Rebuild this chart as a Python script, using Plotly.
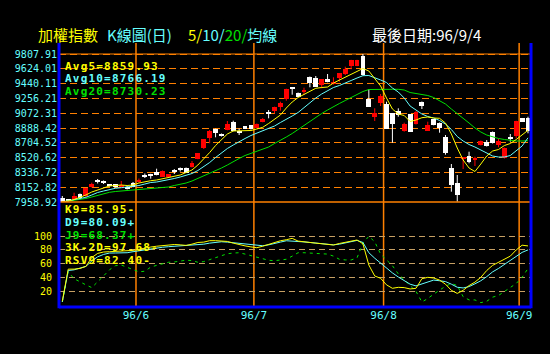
import plotly.graph_objects as go

# ---------------- data ----------------
idx = list(range(80))

open_ = [8022.3, 8000.0, 8009.9, 8068.3, 8043.5, 8151.6, 8229.9, 8223.6, 8180.2, 8188.8,
         8157.8, 8161.5, 8211.2, 8223.6, 8298.2, 8316.8, 8345.4, 8283.3, 8283.3, 8362.8,
         8385.1, 8391.4, 8400.1, 8503.2, 8643.6, 8767.9, 8876.0, 8813.9, 8863.6, 8966.7,
         8847.4, 8909.5, 8921.9, 8888.4, 8963.0, 9078.5, 9099.6, 9153.0, 9245.0, 9394.1,
         9327.0, 9335.7, 9525.8, 9513.4, 9426.4, 9493.5, 9431.4, 9513.4, 9559.4, 9658.8,
         9658.8, 9783.0, 9252.5, 9028.8, 9195.3, 9186.6, 9071.0, 9099.6, 8854.9, 9058.6,
         8938.1, 9215.2, 8854.9, 8996.5, 8954.3, 8780.3, 8391.4, 8211.2, 8499.5, 8540.5,
         8490.8, 8677.2, 8718.2, 8838.7, 8677.2, 8511.8, 8770.4, 8789.0, 9008.9, 9008.9]
high = [8043.5, 8006.0, 8084.5, 8074.5, 8143.0, 8208.8, 8254.7, 8236.0, 8186.4, 8192.6,
        8229.9, 8167.8, 8217.4, 8260.9, 8323.1, 8319.4, 8382.7, 8360.3, 8316.8, 8378.5,
        8397.8, 8397.8, 8478.4, 8577.8, 8751.7, 8863.6, 8879.7, 8820.0, 8975.4, 8979.1,
        8882.2, 8913.3, 8925.7, 8944.3, 9012.7, 9112.1, 9153.0, 9215.2, 9376.7, 9397.9,
        9329.5, 9389.2, 9528.3, 9534.5, 9497.3, 9559.4, 9518.4, 9571.8, 9650.1, 9735.8,
        9735.8, 9807.91, 9369.3, 9133.2, 9310.9, 9215.2, 9074.8, 9133.2, 8954.3, 9062.4,
        9099.6, 9217.7, 8966.7, 9000.2, 8956.8, 8801.4, 8441.1, 8304.4, 8528.1, 8594.0,
        8531.8, 8733.1, 8739.3, 8844.9, 8755.4, 8646.1, 8813.9, 8979.1, 9012.7, 9028.8]
low = [7969.0, 7975.0, 8010.0, 8000.0, 8027.3, 8149.0, 8198.8, 8192.6, 8161.5, 8149.0,
       8151.6, 8124.2, 8151.6, 8211.2, 8267.1, 8258.4, 8300.6, 8279.6, 8279.6, 8316.8,
       8347.9, 8329.2, 8397.6, 8499.5, 8627.3, 8698.3, 8772.9, 8782.8, 8859.8, 8847.4,
       8801.4, 8876.0, 8869.8, 8884.7, 8959.3, 9009.0, 9071.0, 9103.4, 9227.6, 9302.2,
       9273.6, 9298.4, 9394.1, 9397.9, 9381.7, 9456.3, 9428.9, 9463.7, 9547.0, 9617.8,
       9656.3, 9540.8, 9149.3, 8975.4, 9161.8, 8879.7, 8705.8, 9028.8, 8842.4, 8838.7,
       8931.9, 9124.5, 8851.2, 8921.9, 8830.0, 8556.6, 8096.9, 7972.6, 8379.0, 8449.8,
       8416.3, 8670.9, 8658.6, 8695.8, 8648.6, 8509.4, 8718.2, 8760.4, 8963.0, 8822.5]
close = [7972.6, 7987.6, 8043.5, 8018.6, 8139.1, 8192.6, 8217.4, 8213.7, 8167.8, 8151.6,
         8167.8, 8130.4, 8155.3, 8248.5, 8288.3, 8292.0, 8304.4, 8357.9, 8313.1, 8347.9,
         8372.7, 8332.9, 8457.3, 8574.0, 8748.0, 8851.2, 8826.3, 8789.0, 8938.1, 8851.2,
         8835.0, 8879.7, 8872.3, 8938.1, 8996.5, 9062.4, 9149.3, 9195.3, 9373.0, 9369.3,
         9277.3, 9360.6, 9451.3, 9401.6, 9493.5, 9460.0, 9460.0, 9568.1, 9617.8, 9733.4,
         9733.4, 9543.2, 9153.0, 9078.5, 9286.0, 8879.7, 8938.1, 9053.7, 8938.1, 8842.4,
         9090.9, 9161.8, 8925.7, 8925.7, 8892.1, 8581.5, 8183.9, 8062.1, 8524.4, 8469.7,
         8511.8, 8726.9, 8668.5, 8698.3, 8726.9, 8643.6, 8751.7, 8975.4, 8966.7, 8851.2]

ma5 = [7972.7, 7981.4, 8000.0, 8024.8, 8055.9, 8093.2, 8118.0, 8149.1, 8167.7, 8173.9,
       8180.2, 8173.9, 8180.2, 8205.0, 8223.7, 8233.6, 8242.3, 8258.4, 8270.9, 8285.8,
       8304.4, 8335.5, 8366.5, 8428.7, 8503.2, 8584.0, 8671.0, 8745.5, 8813.9, 8851.1,
       8851.1, 8851.1, 8857.4, 8876.0, 8897.1, 8944.3, 9000.3, 9050.0, 9136.9, 9211.5,
       9267.4, 9304.7, 9348.2, 9381.7, 9391.7, 9397.9, 9447.6, 9484.9, 9522.1, 9559.4,
       9596.7, 9627.7, 9596.7, 9509.7, 9410.3, 9261.2, 9124.5, 9062.4, 9043.7, 8969.2,
       8987.8, 9016.4, 9025.1, 9012.7, 9008.9, 8950.6, 8813.9, 8639.9, 8490.8, 8391.4,
       8347.9, 8441.1, 8540.5, 8602.6, 8621.3, 8671.0, 8695.8, 8745.0, 8800.0, 8859.93]
ma10 = [7968.9, 7985.1, 8000.0, 8012.4, 8027.3, 8055.9, 8087.0, 8105.6, 8124.2, 8139.2,
        8146.6, 8155.3, 8161.5, 8173.9, 8192.6, 8211.2, 8217.4, 8229.9, 8242.3, 8260.9,
        8279.6, 8298.2, 8323.1, 8360.3, 8410.0, 8459.7, 8521.9, 8577.8, 8633.7, 8677.2,
        8720.7, 8758.0, 8795.2, 8826.3, 8857.4, 8882.2, 8913.3, 8956.8, 8994.0, 9037.5,
        9081.0, 9143.1, 9199.1, 9261.2, 9310.9, 9354.4, 9391.7, 9416.5, 9443.8, 9478.6,
        9509.7, 9538.3, 9540.8, 9515.9, 9484.9, 9453.8, 9385.4, 9335.7, 9261.2, 9161.8,
        9112.1, 9062.4, 9031.3, 9012.7, 8981.6, 8938.1, 8869.8, 8782.8, 8726.9, 8683.4,
        8652.3, 8615.1, 8571.6, 8540.5, 8528.1, 8528.1, 8546.7, 8602.6, 8664.8, 8766.19]
ma20 = [7968.9, 7977.6, 7987.6, 8000.0, 8012.4, 8031.1, 8049.7, 8074.5, 8089.5, 8099.4,
        8105.6, 8111.8, 8118.0, 8121.8, 8124.2, 8130.5, 8139.2, 8146.6, 8155.3, 8173.9,
        8186.4, 8205.0, 8229.9, 8260.9, 8298.2, 8329.3, 8360.3, 8391.4, 8428.7, 8472.2,
        8509.4, 8546.7, 8571.6, 8596.4, 8621.3, 8652.3, 8695.8, 8733.1, 8776.6, 8820.1,
        8869.8, 8925.7, 8969.2, 9018.9, 9068.6, 9112.1, 9155.6, 9192.9, 9230.1, 9267.4,
        9304.7, 9342.0, 9366.8, 9369.3, 9369.3, 9369.3, 9369.3, 9369.3, 9360.6, 9329.5,
        9314.6, 9304.7, 9292.3, 9267.4, 9230.1, 9186.6, 9124.5, 9068.6, 9006.5, 8950.6,
        8888.4, 8838.7, 8801.4, 8776.6, 8758.0, 8745.5, 8733.1, 8726.9, 8726.9, 8730.23]

k9 = [5, 52, 52, 53, 56, 69, 75, 77, 77.5, 78,
      78, 78.5, 79.4, 81, 83, 84.3, 85.5, 86.7, 87.5, 88,
      87.5, 86.7, 88.5, 91, 91.5, 93.6, 93.6, 93.6, 92.5, 90,
      87.5, 86, 84.5, 83.3, 85.5, 88.5, 91, 93.5, 95, 97,
      93, 91.5, 91, 90, 89, 88, 87.3, 89.5, 91, 92.5,
      94.6, 89, 58, 42, 38.6, 29, 24, 25.4, 25, 23,
      24, 38, 40, 39, 36, 30, 21, 16.5, 21, 28,
      33, 40, 50, 57.5, 62, 66, 71, 80, 87, 85.95]
d9 = [4, 50, 51, 53, 56, 64, 70, 73.5, 75.5, 75.6,
      75.6, 76, 77.5, 79, 80.5, 82, 83, 84, 84.8, 85.3,
      85.7, 86, 86.5, 87, 88.5, 90, 91.5, 92, 91.5, 90.6,
      89.3, 88.2, 87, 86, 86.2, 87.5, 89, 91.5, 93.5, 93.3,
      92.5, 91.8, 91, 90.2, 89.5, 88.3, 87.5, 88.5, 90, 92,
      94, 91, 76, 68, 60.5, 54, 46.5, 40.5, 35, 30,
      27.5, 30, 33, 36, 35, 33.8, 30, 25.5, 24.5, 26.5,
      30.5, 35, 41, 48, 53, 59, 65, 71, 76.5, 80.09]
j9 = [4, 48, 38, 33, 29, 25, 33, 42, 51, 57,
      58, 55, 51, 48, 49, 55, 57.5, 59.5, 62, 62.5,
      64, 65, 64.5, 62, 63, 66, 69, 72, 74.5, 75.5,
      76, 74, 71.5, 69, 66.4, 65, 64.3, 65, 66.4, 71,
      76, 76, 75.5, 75, 74.5, 74, 71, 66.4, 65.5, 65.4,
      68.5, 90, 100, 92, 74, 65, 57, 45, 37, 28,
      19.5, 4, 9, 15.5, 21.5, 27, 31, 28, 11.7, 7,
      7, 3, 5, 11, 13.5, 19, 25, 31, 40, 53]

month_labels = ["96/6", "96/7", "96/8", "96/9"]
month_first_idx = [13, 33, 55, 78]

price_tick_vals = [9807.91, 9624.01, 9440.11, 9256.21, 9072.31, 8888.42,
                   8704.52, 8520.62, 8336.72, 8152.82, 7968.92]
price_tick_text = ["9807.91", "9624.01", "9440.11", "9256.21", "9072.31", "8888.42",
                   "8704.52", "8520.62", "8336.72", "8152.82", "7958.92"]
kd_tick_vals = [20, 40, 60, 80, 100]

legend_ma = ["Avg5=8859.93", "Avg10=8766.19", "Avg20=8730.23"]
legend_kd = ["K9=85.95-", "D9=80.09+", "J9=68.37+", "3K-2D=97.68-", "RSV9=82.40-"]

# ---------------- styling / layout ----------------
W, H = 550, 354
L, R, T, B = 59, 19, 43, 47
PW, PH = W - L - R, H - T - B

def px(x):
    return (x - L) / PW

def py(y):
    return (H - B - y) / PH

YELLOW = "#ffff00"
CYAN = "#66ffff"
GREEN = "#00e000"
ORANGE = "#ff8000"
BLUE = "#0000ff"
TAN = "#c8a064"
RED = "#ff0000"
WHITE = "#ffffff"

split = py(202)

fig = go.Figure()

# candle wicks
for col, is_up in ((RED, True), (WHITE, False)):
    xs, ys = [], []
    for i, o, h, l, c in zip(idx, open_, high, low, close):
        if (c > o) == is_up:
            xs += [i, i, None]
            ys += [l, h, None]
    fig.add_trace(go.Scatter(x=xs, y=ys, mode="lines", line=dict(color=col, width=1),
                             xaxis="x", yaxis="y2", hoverinfo="skip", showlegend=False))

# candle bodies
min_body = 18
bases = [min(o, c) for o, c in zip(open_, close)]
heights = [max(abs(c - o), min_body) for o, c in zip(open_, close)]
colors = [RED if c > o else WHITE for o, c in zip(open_, close)]
fig.add_trace(go.Bar(x=idx, y=heights, base=bases, width=0.82,
                     marker=dict(color=colors, line=dict(width=0)),
                     xaxis="x", yaxis="y2", showlegend=False, hoverinfo="skip"))

# moving averages
for series, col in ((ma20, GREEN), (ma10, CYAN), (ma5, YELLOW)):
    fig.add_trace(go.Scatter(x=idx, y=series, mode="lines", line=dict(color=col, width=1),
                             xaxis="x", yaxis="y2", showlegend=False, hoverinfo="skip"))

# KD
fig.add_trace(go.Scatter(x=idx, y=j9, mode="lines", line=dict(color=GREEN, width=1, dash="3px,4px"),
                         xaxis="x", yaxis="y", showlegend=False, hoverinfo="skip"))
fig.add_trace(go.Scatter(x=idx, y=d9, mode="lines", line=dict(color=CYAN, width=1),
                         xaxis="x", yaxis="y", showlegend=False, hoverinfo="skip"))
fig.add_trace(go.Scatter(x=idx, y=k9, mode="lines", line=dict(color=YELLOW, width=1),
                         xaxis="x", yaxis="y", showlegend=False, hoverinfo="skip"))

shapes = []
for m in month_first_idx:
    shapes.append(dict(type="line", xref="x", yref="paper", x0=m - 0.5, x1=m - 0.5, y0=0, y1=1,
                       line=dict(color=ORANGE, width=1.5), layer="below"))
shapes.append(dict(type="line", xref="paper", yref="y2", x0=0, x1=1,
                   y0=price_tick_vals[0], y1=price_tick_vals[0],
                   line=dict(color=ORANGE, width=1), layer="below"))
shapes.append(dict(type="line", xref="paper", yref="paper", x0=0, x1=1, y0=split, y1=split,
                   line=dict(color=ORANGE, width=1.5), layer="above"))
# blue frame
for xx in (0, 1):
    shapes.append(dict(type="line", xref="paper", yref="paper", x0=xx, x1=xx, y0=-0.005, y1=1,
                       line=dict(color=BLUE, width=3), layer="above"))
shapes.append(dict(type="line", xref="paper", yref="paper", x0=0, x1=1, y0=0, y1=0,
                   line=dict(color=BLUE, width=3), layer="above"))

annotations = []
mono = "DejaVu Sans Mono"
cjk = "Noto Sans CJK TC"

def txt(x, y, text, color, size=11, family=mono, weight="bold", spacing=None):
    if spacing is not None:
        text = "<span style='letter-spacing:%spx'>%s</span>" % (spacing, text)
    annotations.append(dict(xref="paper", yref="paper", x=px(x), y=py(y), text=text, showarrow=False,
                            xanchor="left", yanchor="middle", borderpad=0,
                            font=dict(family=family, size=size, color=color, weight=weight)))

for t, c, yy in zip(legend_ma, (YELLOW, CYAN, GREEN), (66.0, 78.8, 91.6)):
    txt(64, yy, t, c, spacing=1.2)
for t, c, yy in zip(legend_kd, (YELLOW, CYAN, GREEN, YELLOW, YELLOW), (209.5, 222.3, 235.1, 247.9, 260.7)):
    txt(64, yy, t, c, spacing=1.2)

# title
txt(37, 34.6, "加權指數", YELLOW, size=15, family=cjk, weight="normal")
txt(106, 34.6, "K線圖(日)", CYAN, size=15, family=cjk, weight="normal")
txt(187, 34.6, "<span style='color:%s'>5/</span><span style='color:%s'>10/</span>"
               "<span style='color:%s'>20/</span><span style='color:%s'>均線</span>"
               % (YELLOW, CYAN, GREEN, CYAN),
    CYAN, size=15, family=cjk, weight="normal")
txt(371, 34.6, "最後日期:96/9/4", WHITE, size=15, family=cjk, weight="normal")

fig.update_layout(
    width=W, height=H, margin=dict(l=L, r=R, t=T, b=B, pad=0),
    paper_bgcolor="black", plot_bgcolor="black", showlegend=False, bargap=0,
    hovermode=False,
    xaxis=dict(domain=[0, 1], range=[-0.56, 79.51], anchor="y", zeroline=False,
               showline=False, ticks="", tickmode="array", showgrid=False,
               tickvals=[m - 0.5 for m in month_first_idx], ticktext=month_labels,
               tickfont=dict(family=mono, size=11, color=CYAN)),
    yaxis=dict(domain=[0, split], range=[-3.36, 150.15], anchor="x", zeroline=False, showline=False,
               tickmode="array", tickvals=kd_tick_vals, ticks="",
               showgrid=True, gridcolor=TAN, gridwidth=1, griddash="6px,4px",
               tickfont=dict(family=mono, size=10, color=YELLOW), ticklabelstandoff=6),
    yaxis2=dict(domain=[split, 1], range=[7968.92, 9944.59], anchor="x", zeroline=False, showline=False,
                tickmode="array", tickvals=price_tick_vals, ticktext=price_tick_text, ticks="",
                showgrid=True, gridcolor=ORANGE, gridwidth=1, griddash="7px,4px",
                tickfont=dict(family=mono, size=10, color=CYAN), ticklabelstandoff=1),
    shapes=shapes, annotations=annotations,
)

fig.write_html("out.html")
